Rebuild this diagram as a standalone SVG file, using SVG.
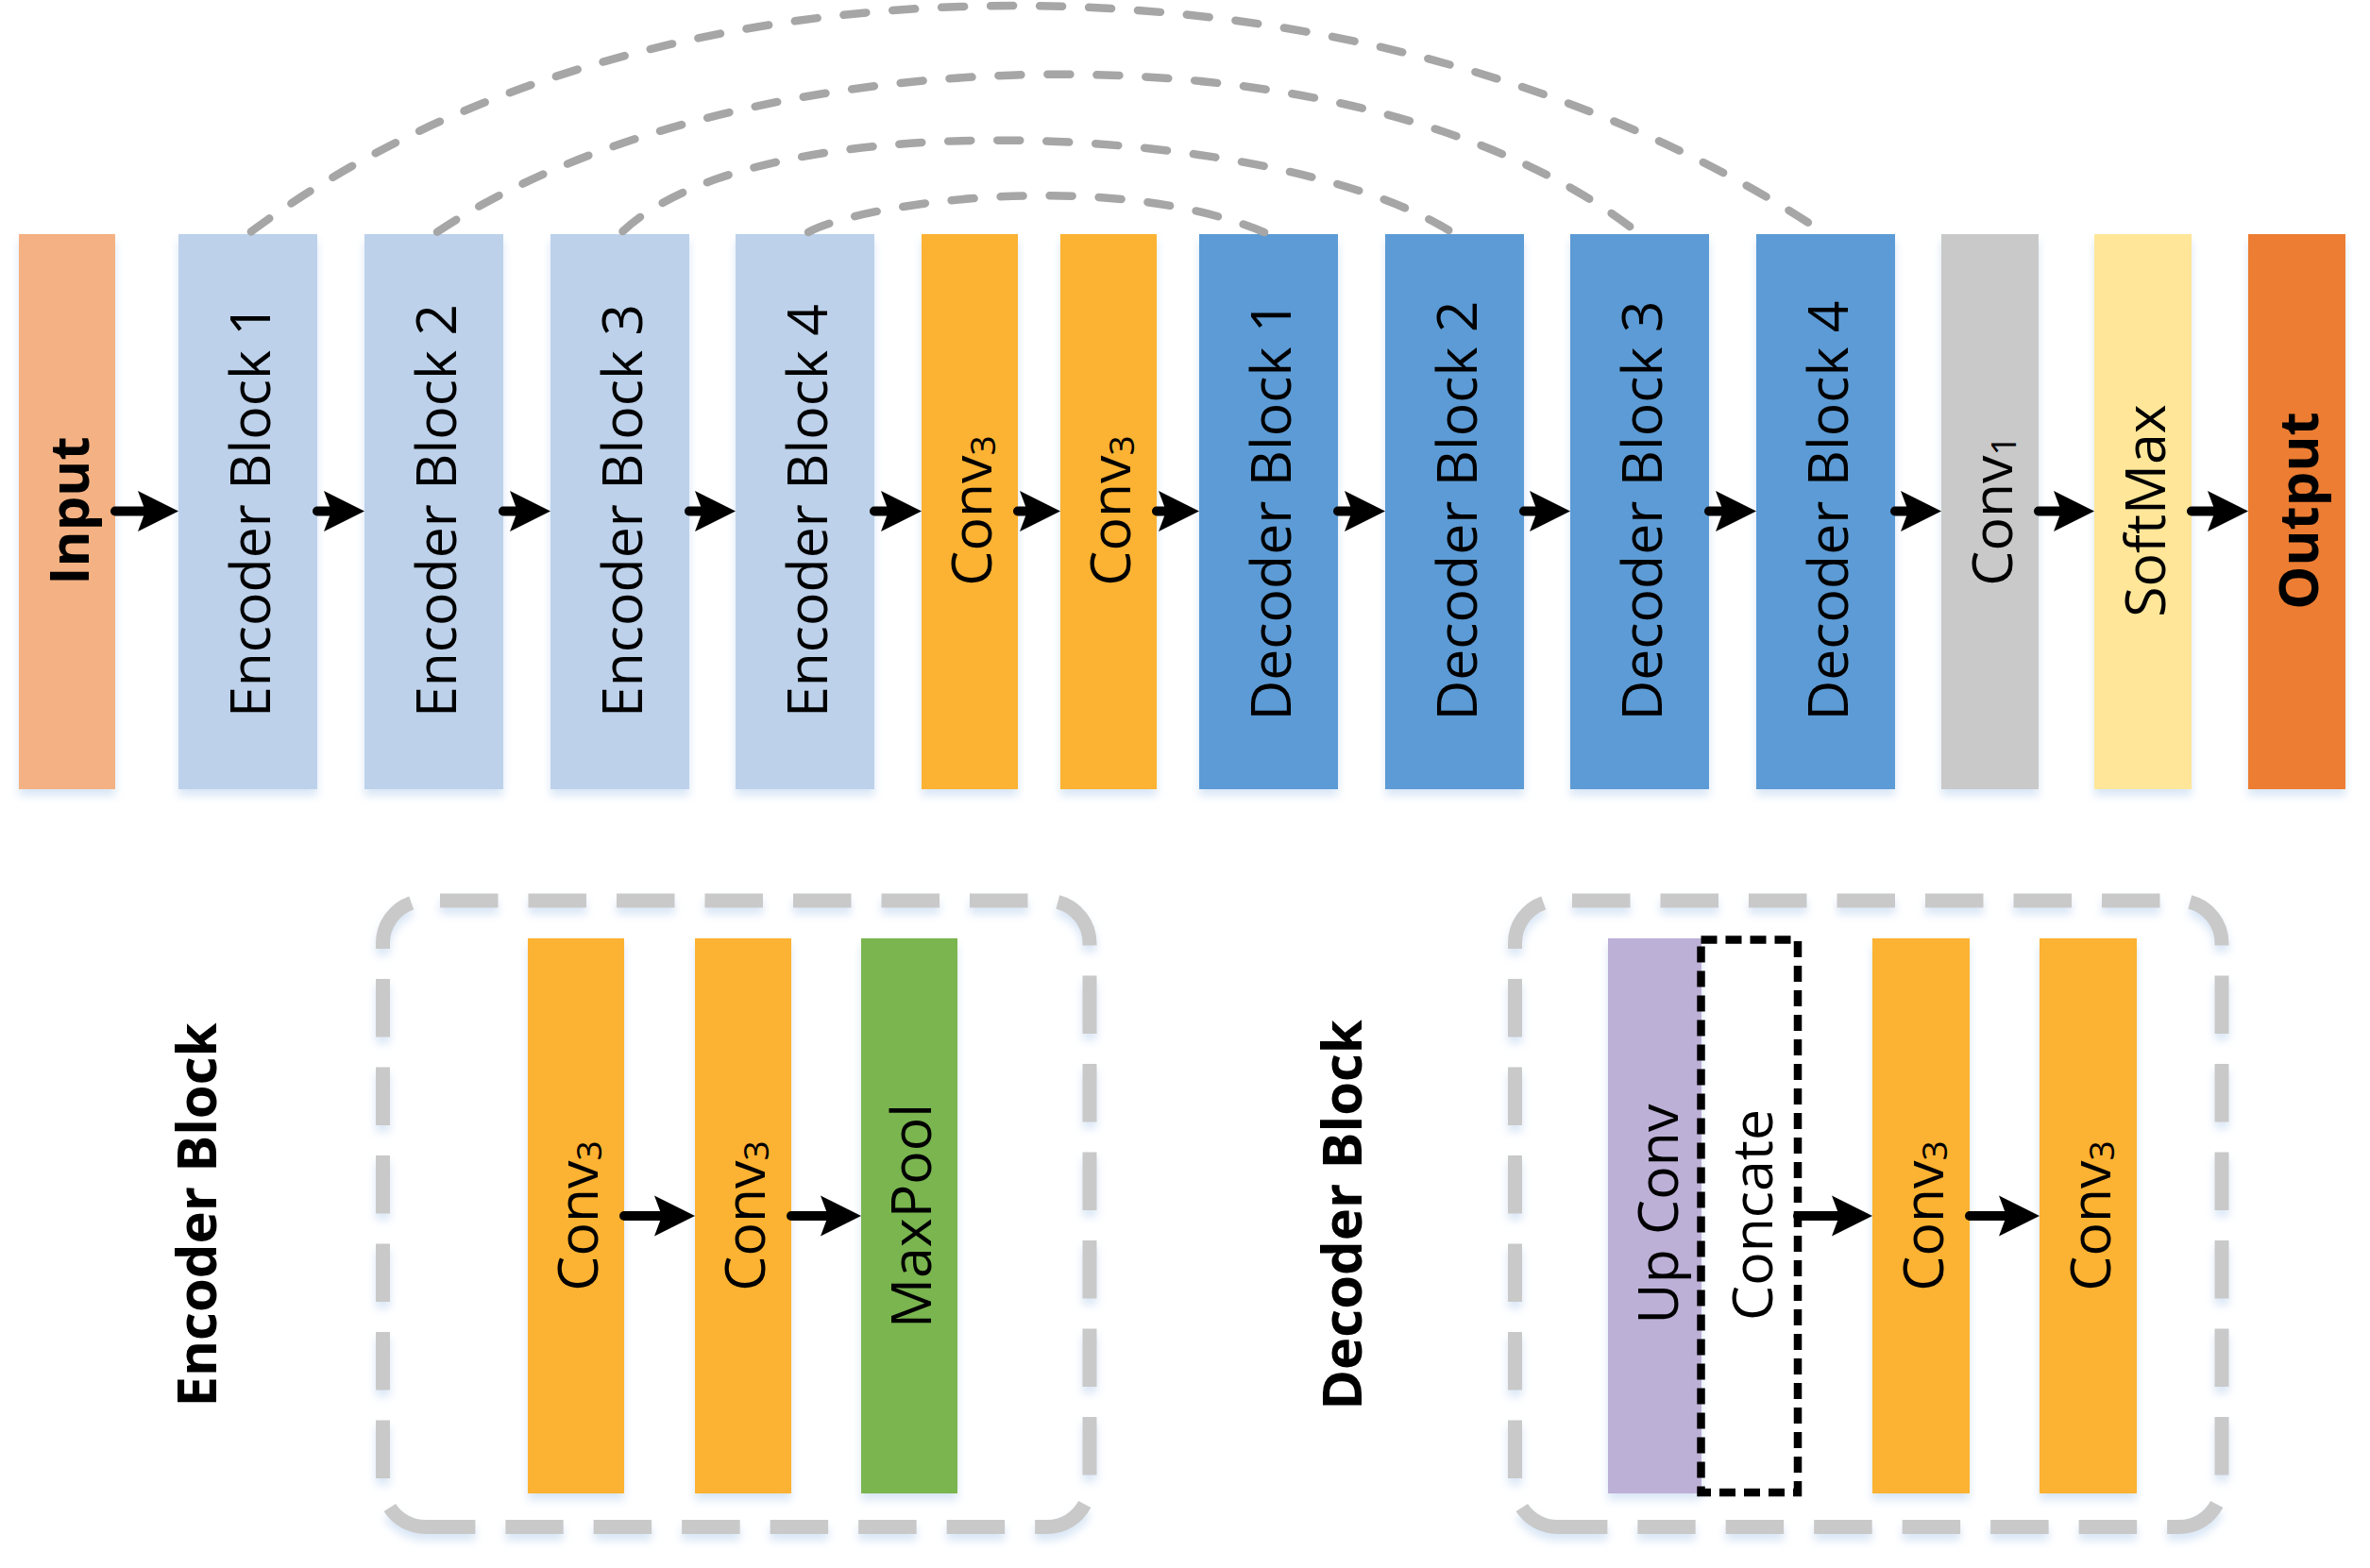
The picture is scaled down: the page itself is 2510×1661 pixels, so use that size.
<svg xmlns="http://www.w3.org/2000/svg" width="2510" height="1661" viewBox="0 0 2510 1661">
<defs>
<filter id="sh" x="-30%" y="-10%" width="160%" height="125%"><feDropShadow dx="0" dy="7" stdDeviation="5" flood-color="#A9C8EA" flood-opacity="0.45"/></filter>
<marker id="ah" markerUnits="userSpaceOnUse" markerWidth="43" markerHeight="44" viewBox="0 0 43 44" refX="8" refY="22" orient="auto"><path d="M0,0.5 L43,22 L0,43.5 L8,22 Z" fill="#000"/></marker>
<g id="pb">
<path class="pd" d="M466,954 H1109 A45,45 0 0 1 1154,999 V1572.5 A45,45 0 0 1 1109,1617.5 H535.4"/>
<path class="ps" d="M503.4,1617.5 H450.5 A45,45 0 0 1 412.8,1597"/>
<path class="pd" d="M405.5,1566 V999 A45,45 0 0 1 450.5,954"/>
</g>
</defs>
<style>
.lbl{font-family:"Open Sans","Liberation Sans",sans-serif;font-size:59px;fill:#000;text-anchor:middle}
.bold{font-weight:bold;font-size:58px}
.sub{font-size:37px}
.arrow{stroke:#000;stroke-width:10;stroke-linecap:round;fill:none;marker-end:url(#ah)}
.skip{stroke:#A6A6A6;stroke-width:8.5;stroke-linecap:round;fill:none;stroke-dasharray:24 28;stroke-dashoffset:-4.25}
.pd{stroke:#C9C9C9;stroke-width:15;fill:none;stroke-dasharray:61.5 32}
.ps{stroke:#C9C9C9;stroke-width:15;fill:none}
.box{filter:url(#sh)}
.enc{fill:#BDD1EA}.dec{fill:#5B9BD5}.conv{fill:#FCB231}
</style>
<rect width="2510" height="1661" fill="#fff"/>

<g id="nodes">
<g id="input"><rect class="box" x="20" y="248" width="102" height="588" fill="#F4B183"/><text class="lbl bold" transform="translate(71,541) rotate(-90)" y="23">Input</text></g>
<g id="enc1"><rect class="box enc" x="189" y="248" width="147" height="588"/><text class="lbl" transform="translate(262.5,541) rotate(-90)" y="23">Encoder Block 1</text></g>
<g id="enc2"><rect class="box enc" x="386" y="248" width="147" height="588"/><text class="lbl" transform="translate(459.5,541) rotate(-90)" y="23">Encoder Block 2</text></g>
<g id="enc3"><rect class="box enc" x="583" y="248" width="147" height="588"/><text class="lbl" transform="translate(656.5,541) rotate(-90)" y="23">Encoder Block 3</text></g>
<g id="enc4"><rect class="box enc" x="779" y="248" width="147" height="588"/><text class="lbl" transform="translate(852.5,541) rotate(-90)" y="23">Encoder Block 4</text></g>
<g id="conv3a"><rect class="box conv" x="976" y="248" width="102" height="588"/><text class="lbl" transform="translate(1027,541) rotate(-90)" y="23">Conv<tspan class="sub" dy="4">3</tspan></text></g>
<g id="conv3b"><rect class="box conv" x="1123" y="248" width="102" height="588"/><text class="lbl" transform="translate(1174,541) rotate(-90)" y="23">Conv<tspan class="sub" dy="4">3</tspan></text></g>
<g id="dec1"><rect class="box dec" x="1270" y="248" width="147" height="588"/><text class="lbl" transform="translate(1343.5,541) rotate(-90)" y="23">Decoder Block 1</text></g>
<g id="dec2"><rect class="box dec" x="1467" y="248" width="147" height="588"/><text class="lbl" transform="translate(1540.5,541) rotate(-90)" y="23">Decoder Block 2</text></g>
<g id="dec3"><rect class="box dec" x="1663" y="248" width="147" height="588"/><text class="lbl" transform="translate(1736.5,541) rotate(-90)" y="23">Decoder Block 3</text></g>
<g id="dec4"><rect class="box dec" x="1860" y="248" width="147" height="588"/><text class="lbl" transform="translate(1933.5,541) rotate(-90)" y="23">Decoder Block 4</text></g>
<g id="conv1"><rect class="box" x="2056" y="248" width="103" height="588" fill="#C9C9C9"/><text class="lbl" transform="translate(2107.5,541) rotate(-90)" y="23">Conv<tspan class="sub" dy="4">1</tspan></text></g>
<g id="softmax"><rect class="box" x="2218" y="248" width="103" height="588" fill="#FFE699"/><text class="lbl" transform="translate(2269.5,541) rotate(-90)" y="23">SoftMax</text></g>
<g id="output"><rect class="box" x="2381" y="248" width="103" height="588" fill="#ED7D31"/><text class="lbl bold" transform="translate(2432.5,541) rotate(-90)" y="22">Output</text></g>

<g id="encoder-block-label"><text class="lbl bold" transform="translate(206,1287) rotate(-90)" y="23">Encoder Block</text></g>
<g id="encoder-panel"><use href="#pb" class="box"/></g>
<g id="enc-conv3a"><rect class="box conv" x="559" y="994" width="102" height="588"/><text class="lbl" transform="translate(610,1288) rotate(-90)" y="23">Conv<tspan class="sub" dy="4">3</tspan></text></g>
<g id="enc-conv3b"><rect class="box conv" x="736" y="994" width="102" height="588"/><text class="lbl" transform="translate(787,1288) rotate(-90)" y="23">Conv<tspan class="sub" dy="4">3</tspan></text></g>
<g id="maxpool"><rect class="box" x="912" y="994" width="102" height="588" fill="#7AB550"/><text class="lbl" transform="translate(963,1288) rotate(-90)" y="23">MaxPool</text></g>

<g id="decoder-block-label"><text class="lbl bold" transform="translate(1419,1287) rotate(-90)" y="23">Decoder Block</text></g>
<g id="decoder-panel"><use href="#pb" class="box" transform="translate(1199,0)"/></g>
<g id="upconv"><rect class="box" x="1703" y="994" width="99" height="588" fill="#BDB0D7"/><text class="lbl" transform="translate(1754,1286) rotate(-90)" y="23">Up Conv</text></g>
<g id="concate"><rect x="1801.5" y="995.5" width="102.5" height="585.5" fill="none" stroke="#000" stroke-width="8.5" stroke-dasharray="17 9"/><text class="lbl" transform="translate(1854,1287) rotate(-90)" y="23">Concate</text></g>
<g id="dec-conv3a"><rect class="box conv" x="1983" y="994" width="103" height="588"/><text class="lbl" transform="translate(2034.5,1288) rotate(-90)" y="23">Conv<tspan class="sub" dy="4">3</tspan></text></g>
<g id="dec-conv3b"><rect class="box conv" x="2160" y="994" width="103" height="588"/><text class="lbl" transform="translate(2211.5,1288) rotate(-90)" y="23">Conv<tspan class="sub" dy="4">3</tspan></text></g>
</g>

<g id="connectors">
<path class="skip" d="M262.5,248 C707,-86 1472,-63 1933.5,248"/>
<path class="skip" d="M459.5,248 C776.5,34 1438.5,11 1736.5,248"/>
<path class="skip" d="M656.5,248 C806.5,100 1365.5,132 1540.5,248"/>
<path class="skip" d="M852.5,248 C903.5,216 1176,175 1343.5,248"/>
<path class="arrow" d="M122,541.5 H154"/>
<path class="arrow" d="M336,541.5 H351"/>
<path class="arrow" d="M533,541.5 H548"/>
<path class="arrow" d="M730,541.5 H744"/>
<path class="arrow" d="M926,541.5 H941"/>
<path class="arrow" d="M1078,541.5 H1088"/>
<path class="arrow" d="M1225,541.5 H1235"/>
<path class="arrow" d="M1417,541.5 H1432"/>
<path class="arrow" d="M1614,541.5 H1628"/>
<path class="arrow" d="M1810,541.5 H1825"/>
<path class="arrow" d="M2007,541.5 H2021"/>
<path class="arrow" d="M2159,541.5 H2183"/>
<path class="arrow" d="M2321,541.5 H2346"/>
<path class="arrow" d="M661,1288 H701"/>
<path class="arrow" d="M838,1288 H877"/>
<path class="arrow" d="M1904,1288 H1948"/>
<path class="arrow" d="M2086,1288 H2125"/>
</g>
</svg>
